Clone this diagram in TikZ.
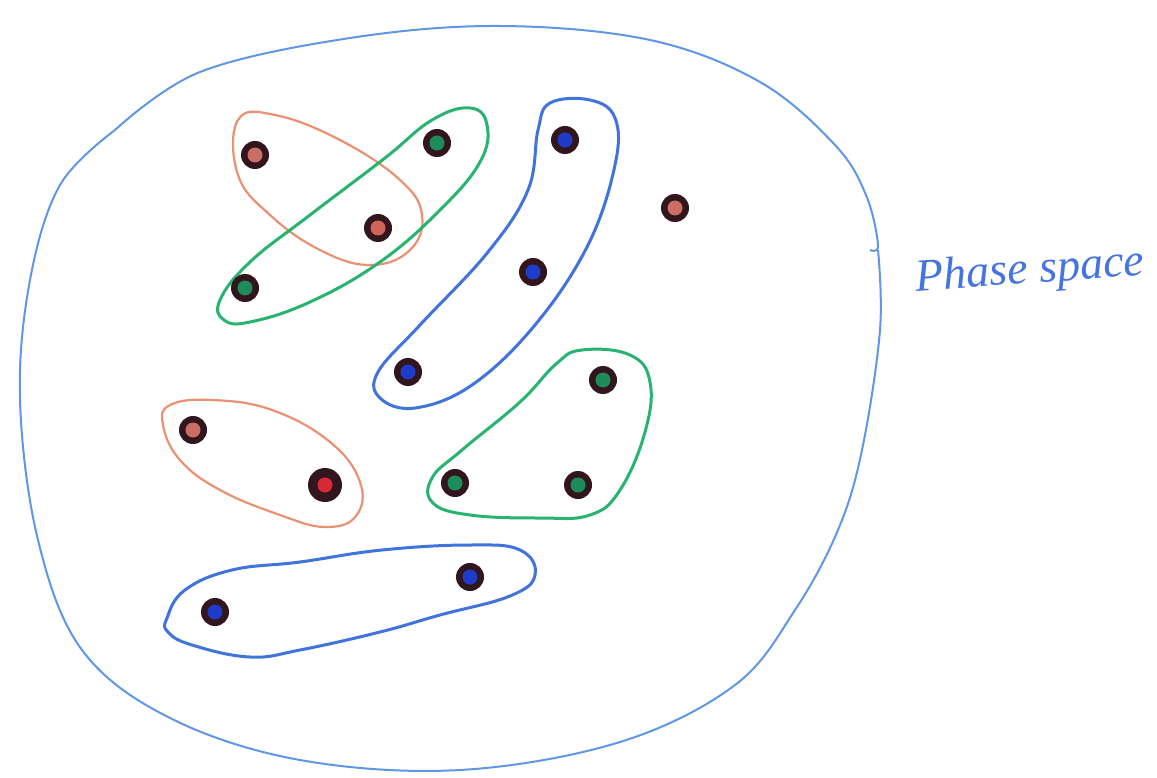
\documentclass[tikz,border=0pt]{standalone}
\usepackage{fontspec}
\setmainfont{Liberation Serif}
\begin{document}
\begin{tikzpicture}[x=1pt,y=-1pt,
  outerc/.style={draw=skyblue, line width=2pt},
  ring/.style={line width=3pt},
  dot/.style={circle, fill=dotdark, minimum size=28pt, inner sep=0pt, path picture={\fill[#1] (path picture bounding box.center) circle (7.5pt);}},
]
\definecolor{skyblue}{RGB}{95,150,230}
\definecolor{dotdark}{RGB}{50,22,30}
\definecolor{grn}{RGB}{40,180,110}
\definecolor{sal}{RGB}{235,145,115}
\definecolor{blu}{RGB}{65,115,220}
\definecolor{dgrn}{RGB}{30,140,90}
\definecolor{dsal}{RGB}{205,110,100}
\definecolor{dblu}{RGB}{30,60,200}
\definecolor{dred}{RGB}{215,40,55}
\definecolor{txtblue}{RGB}{70,115,225}
\useasboundingbox (0,0) rectangle (1157,778);
% outer phase space blob
\draw[outerc] plot[smooth, tension=0.6] coordinates {(115,130) (200,72) (350,38) (500,26) (650,40) (760,82) (835,145) (866,195) (878,245) (870,250)};
\draw[outerc] plot[smooth, tension=0.6] coordinates {(878,250) (880,330) (862,450) (838,530) (795,610) (735,685) (620,742) (460,770) (300,760) (170,718) (82,650) (38,540) (20,400) (30,280) (60,185) (115,130)};
% groups
\draw[ring, draw=sal, line width=2.2pt] plot[smooth cycle, tension=0.7] coordinates {(238,120) (275,115) (340,140) (400,180) (422,215) (410,250) (370,265) (320,250) (270,215) (238,175)};
\draw[ring, draw=grn] plot[smooth cycle, tension=0.7] coordinates {(220,300) (250,262) (310,215) (385,158) (432,120) (470,108) (487,125) (480,162) (440,210) (380,262) (310,302) (250,322) (224,320)};
\draw[ring, draw=blu] plot[smooth cycle, tension=0.65] coordinates {(550,103) (590,100) (615,118) (615,165) (588,245) (535,325) (472,385) (415,408) (380,398) (378,372) (420,325) (488,252) (528,190) (538,130)};
\draw[ring, draw=grn] plot[smooth cycle, tension=0.7] coordinates {(582,350) (630,355) (650,382) (645,432) (620,490) (590,515) (540,518) (470,515) (433,503) (432,478) (462,450) (520,402) (556,364)};
\draw[ring, draw=sal, line width=2.2pt] plot[smooth cycle, tension=0.7] coordinates {(170,405) (212,400) (272,410) (330,442) (360,482) (356,516) (325,527) (280,515) (220,490) (180,460) (163,425)};
\draw[ring, draw=blu] plot[smooth cycle, tension=0.7] coordinates {(167,618) (185,590) (232,570) (300,562) (382,550) (470,545) (520,550) (535,575) (510,596) (440,615) (380,632) (300,650) (250,657) (192,645) (168,632)};
% points
\node[dot=dsal] (p1) at (255,155) {};
\node[dot=dgrn] (p2) at (437,143) {};
\node[dot=dsal!90!red] (p3) at (378,228) {};
\node[dot=dgrn] (p4) at (245,288) {};
\node[dot=dblu] (p5) at (565,140) {};
\node[dot=dsal] (p6) at (675,208) {};
\node[dot=dblu] (p7) at (533,272) {};
\node[dot=dblu] (p8) at (408,372) {};
\node[dot=dgrn] (p9) at (603,380) {};
\node[dot=dsal] (p10) at (193,430) {};
\node[dot=dred, minimum size=34pt] (p11) at (325,485) {};
\node[dot=dgrn] (p12) at (455,483) {};
\node[dot=dgrn] (p13) at (578,485) {};
\node[dot=dblu] (p14) at (470,577) {};
\node[dot=dblu] (p15) at (215,612) {};
% label
\node[text=txtblue, font=\itshape\fontsize{46}{54}\selectfont, rotate=4, inner sep=0pt] (lbl) at (1030,272) {Phase space};
\end{tikzpicture}
\end{document}
